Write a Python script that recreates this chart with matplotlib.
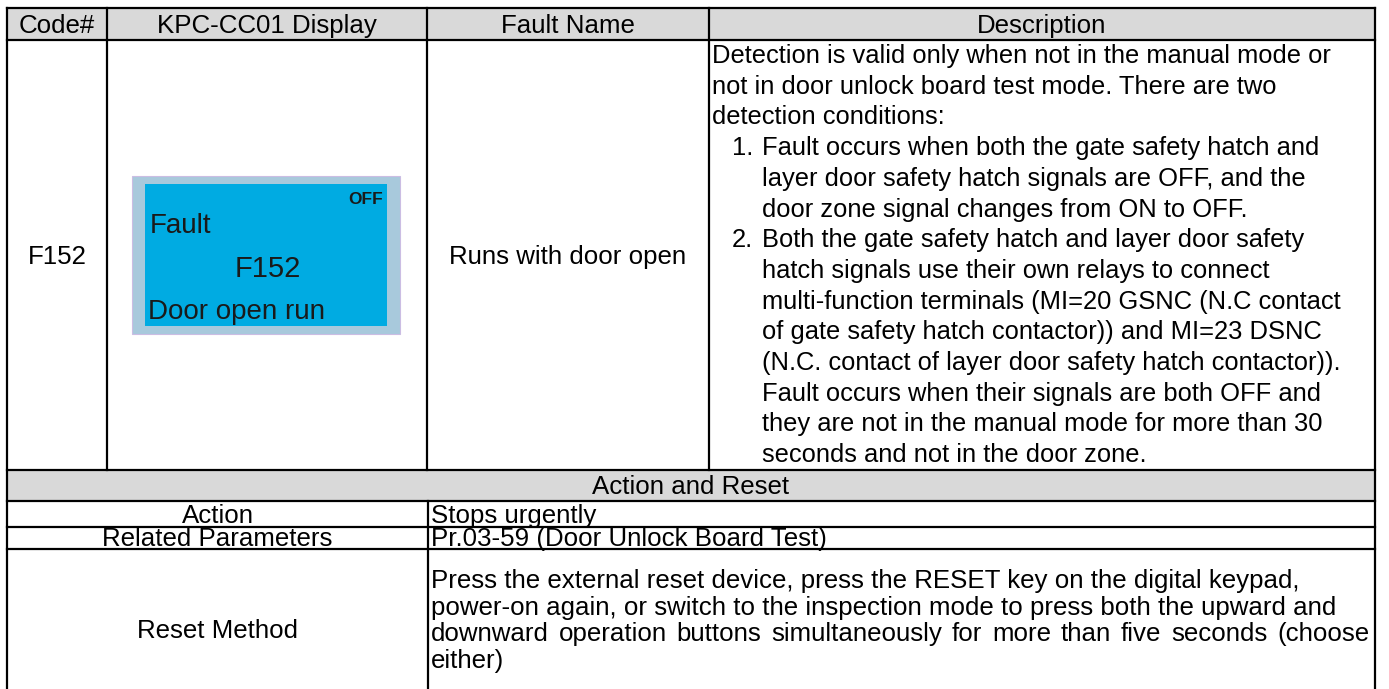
import matplotlib
matplotlib.use("Agg")
import matplotlib.pyplot as plt
from matplotlib.patches import Rectangle

# ---------------- content ----------------
header_labels = ["Code#", "KPC-CC01 Display", "Fault Name", "Description"]
code_label = "F152"
fault_name = "Runs with door open"
display_off = "OFF"
display_lines = ["Fault", "F152", "Door open run"]
desc_intro = [
    "Detection is valid only when not in the manual mode or",
    "not in door unlock board test mode. There are two",
    "detection conditions:",
]
desc_item_numbers = ["1.", "2."]
desc_item_lines = [
    ["Fault occurs when both the gate safety hatch and",
     "layer door safety hatch signals are OFF, and the",
     "door zone signal changes from ON to OFF."],
    ["Both the gate safety hatch and layer door safety",
     "hatch signals use their own relays to connect",
     "multi-function terminals (MI=20 GSNC (N.C contact",
     "of gate safety hatch contactor)) and MI=23 DSNC",
     "(N.C. contact of layer door safety hatch contactor)).",
     "Fault occurs when their signals are both OFF and",
     "they are not in the manual mode for more than 30",
     "seconds and not in the door zone."],
]
section_title = "Action and Reset"
bottom_labels = ["Action", "Related Parameters", "Reset Method"]
bottom_values = [
    ["Stops urgently"],
    ["Pr.03-59 (Door Unlock Board Test)"],
    ["Press the external reset device, press the RESET key on the digital keypad,",
     "power-on again, or switch to the inspection mode to press both the upward and",
     "downward operation buttons simultaneously for more than five seconds (choose",
     "either)"],
]

# ---------------- layout ----------------
W, H = 1389, 689
col_x = [7, 107, 427, 709, 1375]
row_y = [8, 40, 470, 501, 527, 549, 691]
split_x = 428
FONT = "Liberation Sans"
FS = 18.6
FS_DESC = 18.4
GRAY = "#d9d9d9"
LW = 1.6
INK = "#1a1a1a"

fig = plt.figure(figsize=(W / 100, H / 100), dpi=100)
ax = fig.add_axes([0, 0, 1, 1])
ax.set_xlim(0, W)
ax.set_ylim(H, 0)
ax.axis("off")

# gray fills
ax.add_patch(Rectangle((col_x[0], row_y[0]), col_x[-1] - col_x[0], row_y[1] - row_y[0],
                       facecolor=GRAY, edgecolor="none", zorder=0))
ax.add_patch(Rectangle((col_x[0], row_y[2]), col_x[-1] - col_x[0], row_y[3] - row_y[2],
                       facecolor=GRAY, edgecolor="none", zorder=0))

# grid lines
for y in row_y:
    ax.plot([col_x[0], col_x[-1]], [y, y], color="black", lw=LW, solid_capstyle="projecting")
ax.plot([col_x[0], col_x[0]], [row_y[0], row_y[-1]], color="black", lw=LW)
ax.plot([col_x[-1], col_x[-1]], [row_y[0], row_y[-1]], color="black", lw=LW)
for x in col_x[1:-1]:
    ax.plot([x, x], [row_y[0], row_y[2]], color="black", lw=LW)
ax.plot([split_x, split_x], [row_y[3], row_y[-1]], color="black", lw=LW)


def txt(x, y, s, ha="left", **kw):
    kw.setdefault("fontsize", FS)
    kw.setdefault("family", FONT)
    kw.setdefault("color", "black")
    return ax.text(x, y, s, ha=ha, va="baseline", **kw)


def justified(x0, x1, y, s, **kw):
    """Draw words spread so the line runs from x0 to x1."""
    fig.canvas.draw()
    renderer = fig.canvas.get_renderer()
    words = s.split(" ")
    objs = [txt(0, y, w, **kw) for w in words]
    widths = [o.get_window_extent(renderer).width for o in objs]
    gap = (x1 - x0 - sum(widths)) / (len(words) - 1)
    x = x0
    for o, w in zip(objs, widths):
        o.set_x(x)
        x += w + gap


# header
for i, lab in enumerate(header_labels):
    txt((col_x[i] + col_x[i + 1]) / 2, 33, lab, ha="center")

# main row
txt((col_x[0] + col_x[1]) / 2, 264, code_label, ha="center")
txt((col_x[2] + col_x[3]) / 2, 264, fault_name, ha="center")

# display picture
ax.add_patch(Rectangle((132, 176), 268, 158, facecolor="#a8c9dc", edgecolor="#cbbde3", lw=0.8))
ax.add_patch(Rectangle((145, 184), 242, 142, facecolor="#00abe2", edgecolor="none"))
txt(383, 204, display_off, ha="right", fontsize=12.5, fontweight="bold", color=INK)
txt(150, 233, display_lines[0], fontsize=20, color=INK)
txt(268, 277, display_lines[1], ha="center", fontsize=21, color=INK)
txt(148, 319, display_lines[2], fontsize=20, color=INK)

# description
base0, step = 63, 30.7
line = 0
for s in desc_intro:
    txt(712, base0 + line * step, s, fontsize=FS_DESC)
    line += 1
for num, lines in zip(desc_item_numbers, desc_item_lines):
    txt(732, base0 + line * step, num, fontsize=FS_DESC)
    for s in lines:
        txt(762, base0 + line * step, s, fontsize=FS_DESC)
        line += 1

# section
txt((col_x[0] + col_x[-1]) / 2, 494, section_title, ha="center")
label_bases = [523, 546, 638]
for lab, b in zip(bottom_labels, label_bases):
    txt((col_x[0] + split_x) / 2, b, lab, ha="center")
txt(431, 523, bottom_values[0][0])
txt(431, 546, bottom_values[1][0])
reset_lines = bottom_values[2]
for k, s in enumerate(reset_lines):
    yb = 588 + k * 26.7
    if k == 2:
        justified(431, 1369, yb, s)
    else:
        txt(431, yb, s)

fig.savefig("out.png", dpi=100, facecolor="white")
